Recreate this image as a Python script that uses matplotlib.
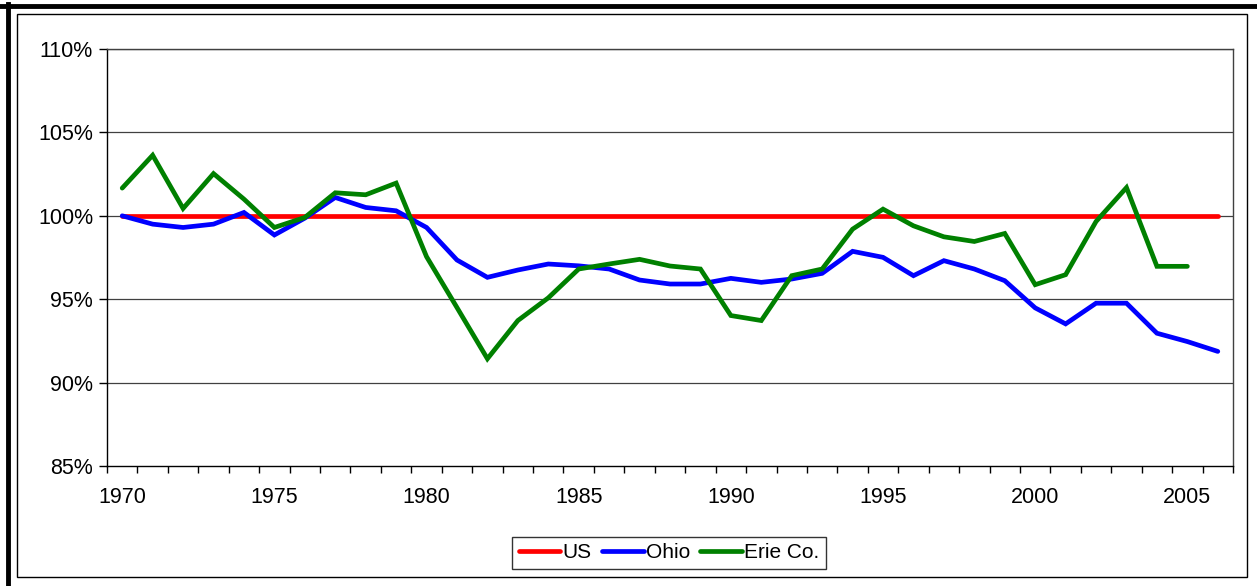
import numpy as np
import matplotlib
matplotlib.use('Agg')
import matplotlib.pyplot as plt
from matplotlib.lines import Line2D
from matplotlib.patches import Rectangle
from matplotlib.ticker import FixedLocator, FuncFormatter

plt.rcParams['font.family'] = ['Liberation Sans', 'DejaVu Sans']

# yearly values, share of US per capita level (%)
years = list(range(1970, 2007))
us = [100.0] * len(years)
ohio = [100.0, 99.5, 99.3, 99.5, 100.2, 98.85, 99.86, 101.1, 100.5, 100.3,
        99.3, 97.35, 96.31, 96.75, 97.11, 97.0, 96.81, 96.15, 95.91, 95.91,
        96.25, 96.01, 96.21, 96.55, 97.87, 97.51, 96.41, 97.31, 96.81, 96.11,
        94.48, 93.52, 94.76, 94.76, 92.96, 92.46, 91.87]
erie = [101.66, 103.63, 100.44, 102.53, 101.0, 99.3, 99.9, 101.38, 101.26, 101.96,
        97.55, 94.5, 91.43, 93.72, 95.08, 96.81, 97.11, 97.39, 96.99, 96.81,
        94.02, 93.72, 96.41, 96.81, 99.2, 100.4, 99.4, 98.74, 98.46, 98.94,
        95.87, 96.47, 99.66, 101.69, 96.97, 96.97, np.nan]
series_names = ['US', 'Ohio', 'Erie Co.']
series_colors = ['#ff0000', '#0000ff', '#008000']
y_ticks = [85, 90, 95, 100, 105, 110]
label_years = [1970, 1975, 1980, 1985, 1990, 1995, 2000, 2005]

fig = plt.figure(figsize=(12.57, 5.86), dpi=100)
ax = fig.add_axes([107 / 1257, 1 - 466 / 586, (1233 - 107) / 1257, (466 - 49) / 586])

x = np.arange(len(years))
for vals, name, col in zip([us, ohio, erie], series_names, series_colors):
    ax.plot(x, vals, color=col, lw=3.4, label=name, solid_capstyle='round',
            solid_joinstyle='miter', zorder=3)

ax.set_xlim(-0.5, len(years) - 0.5)
ax.set_ylim(85, 110)

# horizontal gridlines
for t in y_ticks[1:]:
    ax.axhline(t, color='#404040', lw=0.9, zorder=1)

ax.yaxis.set_major_locator(FixedLocator(y_ticks))
ax.yaxis.set_major_formatter(FuncFormatter(lambda v, p: f'{v:.0f}%'))

# ticks at category boundaries, labels at category centres
ax.xaxis.set_major_locator(FixedLocator(np.arange(len(years) + 1) - 0.5))
ax.xaxis.set_major_formatter(FuncFormatter(lambda v, p: ''))
ax.set_xticks([years.index(y) for y in label_years], minor=True)
ax.set_xticklabels([str(y) for y in label_years], minor=True)
ax.tick_params(axis='x', which='minor', length=0, pad=15, labelsize=15.5)
ax.tick_params(axis='x', which='major', direction='out', length=5, width=1, color='black')
ax.tick_params(axis='y', direction='out', length=6, width=1, labelsize=15.5, pad=4)

for s in ax.spines.values():
    s.set_color('black')
    s.set_linewidth(1.0)
ax.spines['top'].set_color('#404040')
ax.spines['right'].set_color('#404040')

# chart area border and outer frame
fig.patches.append(Rectangle((17 / 1257, 9 / 586), (1247 - 17) / 1257, (577 - 14) / 586,
                             transform=fig.transFigure, fill=False, ec='black', lw=1.0))
fig.add_artist(Line2D([8 / 1257, 8 / 1257], [0, 1 - 4 / 586], transform=fig.transFigure,
                      color='black', lw=3.5))
fig.add_artist(Line2D([0, 1], [1 - 6 / 586, 1 - 6 / 586], transform=fig.transFigure,
                      color='black', lw=3.5))

leg = fig.legend(loc='center', bbox_to_anchor=(669 / 1257, 1 - 553 / 586), ncol=3,
                 fontsize=15, frameon=True, fancybox=False, edgecolor='black',
                 handlelength=2.0, handletextpad=0.1, columnspacing=0.5,
                 borderpad=0.3)
leg.get_frame().set_linewidth(1.0)

fig.savefig('out.png', dpi=100)
